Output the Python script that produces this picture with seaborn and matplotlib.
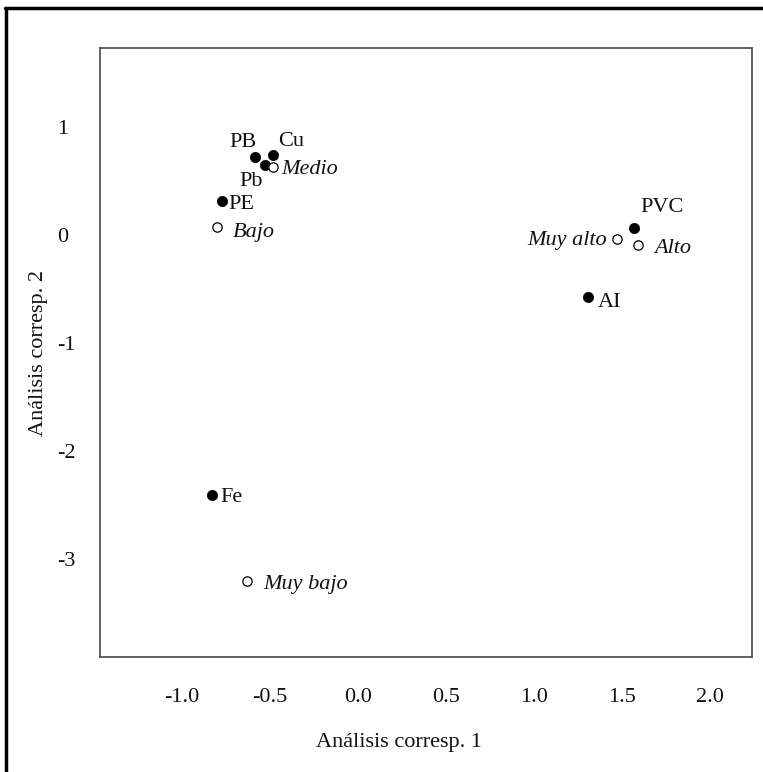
import matplotlib
matplotlib.use("Agg")
import matplotlib.pyplot as plt
import seaborn as sns
import pandas as pd
from matplotlib.lines import Line2D

# Variables (filled points)
var_names = ["PB", "Cu", "Pb", "PE", "PVC", "AI", "Fe"]
var_x = [-0.585, -0.48, -0.53, -0.77, 1.57, 1.31, -0.83]
var_y = [0.72, 0.74, 0.65, 0.31, 0.065, -0.58, -2.41]

# Categories (open points)
cat_names = ["Medio", "Bajo", "Muy alto", "Alto", "Muy bajo"]
cat_x = [-0.48, -0.80, 1.47, 1.59, -0.63]
cat_y = [0.63, 0.07, -0.04, -0.09, -3.21]

x_ticks = [-1.0, -0.5, 0.0, 0.5, 1.0, 1.5, 2.0]
y_ticks = [1, 0, -1, -2, -3]

var_df = pd.DataFrame({"x": var_x, "y": var_y, "name": var_names})
cat_df = pd.DataFrame({"x": cat_x, "y": cat_y, "name": cat_names})

# label offsets in pixels (dx, dy down), alignment
px = 0.72
var_off = {
    "PB": (-12, -15, "center"), "Cu": (18, -13, "center"), "Pb": (-14, 17, "center"),
    "PE": (6, 3, "left"), "PVC": (28, -20, "center"), "AI": (9, 5, "left"),
    "Fe": (8, 2, "left"),
}
cat_off = {
    "Medio": (8, 3, "left"), "Bajo": (16, 5, "left"), "Muy alto": (-10, 1, "right"),
    "Alto": (17, 4, "left"), "Muy bajo": (16, 3, "left"),
}

sns.set_style("white")
plt.rcParams["font.family"] = ["Liberation Serif", "DejaVu Serif"]
plt.rcParams["text.color"] = "#111111"
plt.rcParams["axes.labelcolor"] = "#111111"
plt.rcParams["xtick.color"] = "#111111"
plt.rcParams["ytick.color"] = "#111111"

fig = plt.figure(figsize=(7.63, 7.72), dpi=100)
ax = fig.add_axes([100 / 763, 115 / 772, 652 / 763, 609 / 772])

sns.scatterplot(data=var_df, x="x", y="y", ax=ax, color="black", s=55,
                edgecolor="black", linewidth=0.5, zorder=3)
sns.scatterplot(data=cat_df, x="x", y="y", ax=ax, facecolor="white", s=45,
                edgecolor="black", linewidth=0.9, zorder=3)

for _, r in var_df.iterrows():
    dx, dy, ha = var_off[r["name"]]
    ax.annotate(r["name"], (r["x"], r["y"]), xytext=(dx * px, -dy * px),
                textcoords="offset points", ha=ha, va="center", fontsize=16)
for _, r in cat_df.iterrows():
    dx, dy, ha = cat_off[r["name"]]
    ax.annotate(r["name"], (r["x"], r["y"]), xytext=(dx * px, -dy * px),
                textcoords="offset points", ha=ha, va="center", fontsize=16,
                style="italic")

ax.set_xlim(-1.466, 2.24)
ax.set_ylim(-3.91, 1.73)
ax.set_xticks(x_ticks)
ax.set_xticklabels([f"{v:.1f}" for v in x_ticks])
ax.set_yticks(y_ticks)
ax.set_yticklabels([str(v) for v in y_ticks])
ax.tick_params(axis="both", length=0, labelsize=16)
ax.tick_params(axis="x", pad=22)
ax.tick_params(axis="y", pad=31)
for lab in ax.get_yticklabels():
    lab.set_ha("left")

for sp in ax.spines.values():
    sp.set_visible(True)
    sp.set_color("#555555")
    sp.set_linewidth(1.3)

ax.set_xlabel("Análisis corresp. 1", fontsize=16)
ax.set_ylabel("Análisis corresp. 2", fontsize=16)
ax.xaxis.set_label_coords(0.458, -0.125)
ax.yaxis.set_label_coords(-0.08, 0.5)

# outer frame of the original figure
fig.add_artist(Line2D([6 / 763, 6 / 763], [0, 1 - 8 / 772], transform=fig.transFigure,
                      color="black", linewidth=2.5))
fig.add_artist(Line2D([5 / 763, 1], [1 - 8 / 772, 1 - 8 / 772], transform=fig.transFigure,
                      color="black", linewidth=2.5))

fig.savefig("out.png", dpi=100)
